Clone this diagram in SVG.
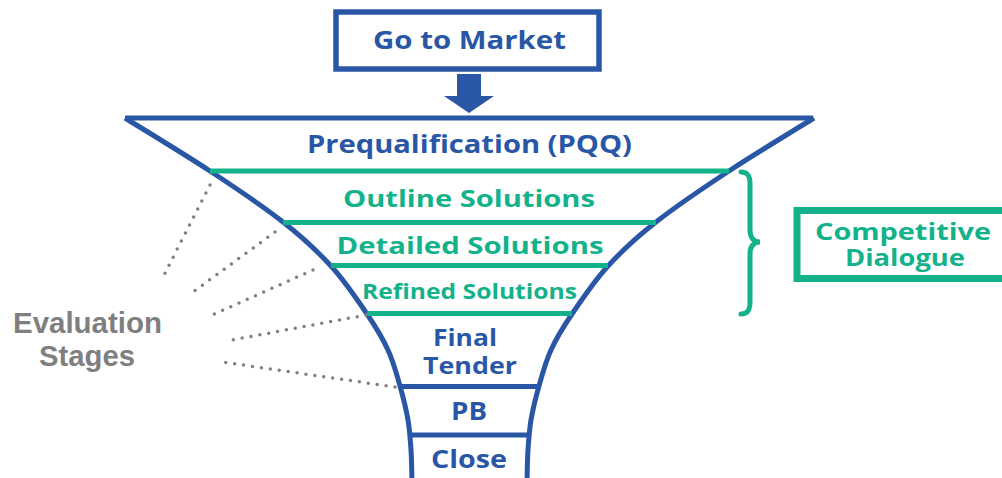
<svg xmlns="http://www.w3.org/2000/svg" width="1002" height="478" viewBox="0 0 1002 478">
<style>
.blue{fill:#2A57A5}
.green{fill:#13B28A}
.t{font-family:"Open Sans","Noto Sans","DejaVu Sans",sans-serif;font-weight:bold;text-anchor:middle}
.gray{font-family:"Liberation Sans",Arial,sans-serif;font-weight:bold;fill:#7F7F7F;text-anchor:middle;font-size:29px}
.wall{fill:none;stroke:#2A57A5;stroke-width:5}
.gl{stroke:#13B28A;stroke-width:5}
.bl{stroke:#2A57A5;stroke-width:5}
.dot{fill:none;stroke:#808080;stroke-width:3.5;stroke-linecap:round;stroke-dasharray:0 9}
</style>
<rect width="1002" height="478" fill="#ffffff"/>

<g id="go-to-market">
<rect x="336" y="12" width="263" height="57" fill="#ffffff" stroke="#2A57A5" stroke-width="5.5"/>
<text class="t blue" x="469.5" y="49" font-size="24.5" textLength="193" lengthAdjust="spacingAndGlyphs">Go to Market</text>
</g>

<g id="funnel">
<path class="wall" d="M125,118 L813,118"/>
<path id="left-wall" class="wall" d="M125,118 C139.2,126.8 183.7,153.7 210,171 C236.3,188.3 262.8,206.2 283,222 C303.2,237.8 317,250.7 331,266 C345,281.3 357.5,300 367,314 C376.5,328 382.5,338 388,350 C393.5,362 396.7,374.3 400,386 C403.3,397.7 406.2,409.3 408,420 C409.8,430.7 410.3,440 411,450 C411.7,460 411.8,475 412,482"/>
<use href="#left-wall" transform="translate(939,0) scale(-1,1)"/>
</g>

<g id="prequalification">
<text class="t blue" x="469.5" y="153" font-size="25" textLength="325" lengthAdjust="spacingAndGlyphs">Prequalification (PQQ)</text>
</g>

<g id="outline-solutions">
<line class="gl" x1="210" y1="171" x2="729" y2="171"/>
<text class="t green" x="469" y="207" font-size="23.5" textLength="252" lengthAdjust="spacingAndGlyphs">Outline Solutions</text>
</g>

<g id="detailed-solutions">
<line class="gl" x1="283" y1="222.5" x2="656" y2="222.5"/>
<text class="t green" x="470" y="254" font-size="23.5" textLength="267" lengthAdjust="spacingAndGlyphs">Detailed Solutions</text>
</g>

<g id="refined-solutions">
<line class="gl" x1="331" y1="265.5" x2="608" y2="265.5"/>
<text class="t green" x="469.5" y="299" font-size="20.5" textLength="215" lengthAdjust="spacingAndGlyphs">Refined Solutions</text>
</g>

<g id="final-tender">
<line class="gl" x1="367" y1="313.5" x2="572" y2="313.5"/>
<text class="t blue" x="465" y="346" font-size="23.5" textLength="64" lengthAdjust="spacingAndGlyphs">Final</text>
<text class="t blue" x="470" y="374" font-size="23.5" textLength="94" lengthAdjust="spacingAndGlyphs">Tender</text>
</g>

<g id="pb">
<line class="bl" x1="400" y1="386.5" x2="539" y2="386.5"/>
<text class="t blue" x="469" y="420" font-size="24.5" textLength="36" lengthAdjust="spacingAndGlyphs">PB</text>
</g>

<g id="close">
<line class="bl" x1="410" y1="435" x2="529" y2="435"/>
<text class="t blue" x="469" y="468" font-size="24.5" textLength="76" lengthAdjust="spacingAndGlyphs">Close</text>
</g>

<g id="competitive-dialogue">
<rect x="797" y="210.5" width="220" height="68" fill="#ffffff" stroke="#13B28A" stroke-width="7"/>
<text class="t green" x="903" y="240" font-size="22.5" textLength="176" lengthAdjust="spacingAndGlyphs">Competitive</text>
<text class="t green" x="905" y="266" font-size="22.5" textLength="120" lengthAdjust="spacingAndGlyphs">Dialogue</text>
</g>

<g id="evaluation-stages">
<text class="gray" x="87.5" y="333" textLength="149" lengthAdjust="spacingAndGlyphs">Evaluation</text>
<text class="gray" x="87" y="366" textLength="96" lengthAdjust="spacingAndGlyphs">Stages</text>
</g>

<g id="connectors">
<path d="M457,74 L481,74 L481,96 L494,96 L469,113 L444,96 L457,96 Z" fill="#2A57A5"/>
<path d="M741,172 C748,172 750,176 750,184 L750,230 C750,238 754,242 760,242 C754,242 750,246 750,254 L750,302 C750,310 748,314 741,314" fill="none" stroke="#13B28A" stroke-width="5" stroke-linecap="round"/>
<path class="dot" d="M210,185 L163,277"/>
<path class="dot" d="M275,232 L193,292"/>
<path class="dot" d="M313,270 L212,315"/>
<path class="dot" d="M366,315 L232,340"/>
<path class="dot" d="M395,387 L222,362"/>
</g>
</svg>
